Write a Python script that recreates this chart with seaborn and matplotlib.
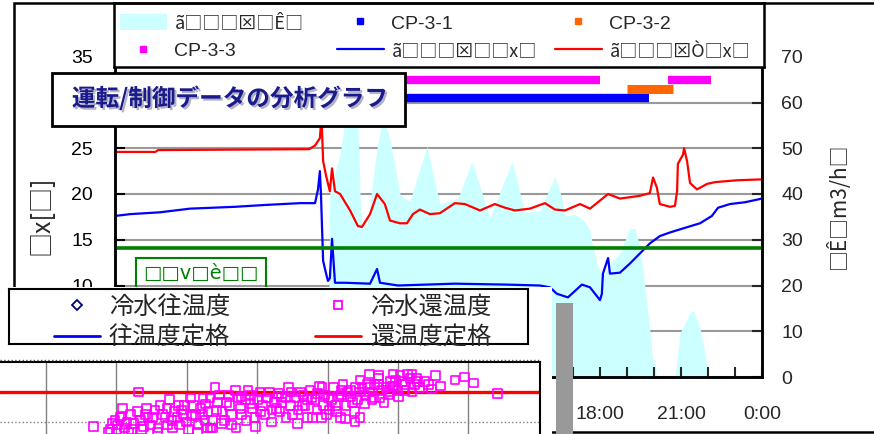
import matplotlib
matplotlib.use('Agg')
import matplotlib.pyplot as plt
import matplotlib.patheffects as pe
from matplotlib.patches import Rectangle, Patch
from matplotlib.lines import Line2D
from matplotlib.legend import Legend
import seaborn as sns

W, H = 874, 434

# ---- main chart data (hours of day, temperature degC / flow m3/h) ----
supply_t = [0, 0.56, 1.67, 2.78, 4.45, 5.56, 6.86, 7.42, 7.53, 7.60, 7.64, 7.68, 7.72, 7.83, 7.90,
            7.97, 8.05, 8.16, 8.53, 9.46, 9.72, 9.83, 10.5, 12.6, 14.5, 15.76, 16.13, 16.39, 16.80,
            17.32, 17.62, 17.99, 18.06, 18.10, 18.29, 18.36, 18.73, 19.10, 19.47, 19.84, 20.21,
            20.59, 21.14, 21.70, 22.14, 22.37, 22.81, 23.37, 24.0]
supply_v = [17.6, 17.8, 18.0, 18.4, 18.6, 18.8, 19.0, 19.0, 20.5, 22.5, 20.0, 16.3, 12.7, 11.3, 10.5,
            10.8, 15.1, 10.3, 10.3, 10.2, 11.8, 10.3, 10.0, 10.2, 10.1, 10.0, 9.8, 9.1, 8.7,
            10.1, 9.8, 8.4, 9.1, 11.3, 13.0, 11.3, 11.4, 12.4, 13.5, 14.6, 15.4,
            15.8, 16.3, 16.8, 17.6, 18.5, 18.9, 19.1, 19.5]

return_t = [0, 1.5, 1.6, 7.2, 7.42, 7.6, 7.66, 7.72, 7.83, 7.97, 8.05, 8.16, 8.35, 8.72, 9.01, 9.16,
            9.46, 9.72, 10.01, 10.2, 10.57, 10.83, 11.05, 11.31, 11.68, 12.05, 12.61, 12.98, 13.54,
            14.09, 14.47, 14.84, 15.39, 15.95, 16.32, 16.69, 17.25, 17.62, 18.29, 18.73, 19.47,
            19.84, 19.96, 20.10, 20.21, 20.59, 20.77, 20.85, 20.88, 21.07, 21.11, 21.22, 21.33,
            21.59, 21.96, 22.26, 23.07, 24.0]
return_v = [24.6, 24.6, 24.8, 24.9, 25.3, 26.1, 28.5, 23.6, 22.0, 20.3, 22.8, 20.3, 20.0, 18.2, 16.5, 16.4,
            17.8, 20.0, 18.9, 17.1, 16.8, 16.8, 17.8, 18.3, 17.8, 17.9, 19.0, 18.9, 18.2,
            18.9, 18.5, 18.2, 18.4, 19.0, 18.3, 18.2, 18.9, 18.4, 20.0, 19.5, 19.8,
            20.1, 21.8, 20.7, 18.9, 18.6, 18.7, 20.3, 23.3, 24.3, 25.0, 23.6, 21.2,
            20.5, 21.1, 21.3, 21.5, 21.6]

flow_t = [7.9, 7.97, 8.35, 8.53, 8.8, 9.01, 9.09, 9.16, 9.35, 9.72, 9.94, 10.2, 10.57, 10.76, 10.94,
          11.57, 12.05, 12.72, 13.24, 13.91, 14.73, 15.2, 15.76, 16.32, 16.58, 16.69, 17.06, 17.43,
          17.62, 17.73, 17.92, 18.10, 18.36, 18.73, 19.10, 19.29, 19.47, 19.66, 19.84, 19.96, 20.03,
          20.1, 20.77, 20.81, 20.96, 21.33, 21.44, 21.70, 21.88, 22.0]
flow_v = [0, 40.6, 48.7, 56, 58, 56, 40, 32.6, 33, 50, 57, 52, 40, 39, 38.5,
          50.4, 37.8, 39, 47.2, 34.8, 47.2, 36, 36.3, 43.9, 39, 35.2, 35.6, 34,
          32, 28.3, 23.9, 22, 24.8, 27, 32.6, 32.4, 28.3, 19.6, 10.2, 3, 3,
          0, 0, 2, 9.6, 14.1, 14.6, 10.9, 5.2, 0]

rated_temp = 14.1

# pump run periods (start, end) and the level they are drawn at (right axis)
cp31_on, cp31_off, cp31_lvl = [7.6], [19.8], 61
cp32_on, cp32_off, cp32_lvl = [19.0], [20.7], 63
cp33_on, cp33_off, cp33_lvl = [7.6, 20.5], [18.0, 22.1], 65

# ---- lower scatter data (load %, return temperature) ----
ret_load = [16.7, 18.8, 23.1, 20.9, 22.0, 20.5, 19.8, 20.2, 21.2, 22.4, 23.4, 24.1, 24.8, 25.5, 26.2,
            26.9, 27.6, 28.3, 29.0, 29.7, 30.5, 31.2, 31.9, 32.6, 32.9, 33.3, 33.7, 34.0, 34.4, 35.0,
            35.9, 36.4, 36.9, 37.6, 38.3, 39.0, 39.7, 40.4, 40.7, 41.5, 42.1, 43.0, 43.5, 44.4, 45.0,
            45.5, 46.1, 46.8, 47.5, 47.9, 48.2, 48.9, 49.1, 49.6, 50.3, 50.8, 51.5, 51.8, 52.2, 52.5,
            52.8, 53.5, 53.9, 54.0, 54.6, 54.6, 55.3, 55.7, 56.3, 57.2, 57.2, 57.7, 58.3, 58.9, 59.6,
            60.3, 61.0, 61.4, 61.7, 62.0, 62.6, 63.1, 63.8, 64.8, 65.3, 68.1, 69.5, 70.7, 74.1,
            19.1, 21.7, 23.6, 24.5, 25.9, 27.3, 27.9, 28.8, 29.5, 30.2, 30.9, 31.6, 32.3, 33.0, 33.6,
            34.7, 35.4, 36.1, 37.3, 37.8, 38.7, 39.3, 40.1, 41.1, 41.8, 42.5, 43.2, 44.0, 44.7, 45.8,
            46.5, 47.2, 48.6, 49.4, 50.1, 51.1, 52.0, 53.2, 54.3, 54.9, 56.0, 56.7, 57.4, 58.6, 59.2,
            60.0, 60.6, 62.4, 62.8, 64.3, 66.0,
            19.4, 20.1, 20.8, 21.5, 22.2, 23.0, 23.8, 24.3, 25.1, 25.8, 26.5, 27.2, 28.0, 28.6, 29.3,
            30.0, 30.7, 31.5, 32.2, 32.7, 33.4, 34.2, 34.9, 35.6, 36.3, 37.0, 37.7, 38.4, 39.1, 39.8,
            40.5, 41.3, 42.0, 42.7, 43.4, 44.1, 44.8, 45.7, 46.4, 47.1, 47.8, 48.5, 49.2, 49.9, 50.6,
            51.3, 51.9, 52.6, 53.3, 53.8, 54.5, 55.2, 55.9, 56.6, 57.3, 58.0, 58.7, 59.4, 60.1, 60.9,
            56.0, 59.3, 62.0]
ret_temp = [9.2, 8.3, 15.0, 12.3, 11.2, 10.7, 10.3, 9.5, 9.0, 9.8, 10.3, 11.3, 9.5, 12.0, 12.8,
            10.7, 13.7, 11.7, 9.5, 12.8, 14.0, 11.2, 12.3, 10.3, 9.0, 14.0, 9.0, 15.7, 13.3, 11.7,
            14.5, 9.5, 15.3, 12.3, 13.7, 14.5, 10.7, 15.0, 12.8, 14.0, 12.0, 14.7, 13.3, 15.7, 11.2,
            14.0, 15.0, 12.8, 15.3, 10.8, 13.7, 16.0, 10.8, 14.5, 12.0, 15.7, 14.2, 10.8, 16.3, 10.5,
            15.0, 13.3, 10.0, 15.8, 17.0, 10.7, 14.5, 16.3, 13.7, 17.3, 17.8, 15.3, 15.7, 16.8, 17.0,
            17.7, 16.2, 18.0, 17.2, 15.0, 17.3, 15.7, 16.8, 15.5, 17.7, 17.0, 17.5, 16.5, 14.7,
            8.7, 8.3, 8.7, 10.7, 9.0, 9.5, 10.3, 12.8, 11.2, 8.7, 12.8, 9.5, 14.0, 11.7, 10.3,
            14.5, 10.3, 12.8, 14.0, 11.2, 15.3, 12.3, 13.7, 11.2, 15.0, 13.3, 11.7, 14.0, 12.8, 12.0,
            14.5, 13.7, 14.8, 12.8, 14.0, 12.8, 14.5, 15.3, 13.7, 15.7, 15.0, 16.2, 14.0, 14.5, 16.0,
            15.3, 16.7, 16.2, 16.7, 16.3, 16.0,
            9.7, 8.7, 11.0, 10.0, 8.7, 11.7, 9.3, 12.3, 10.7, 8.3, 11.3, 12.3, 9.0, 10.7, 12.0,
            10.0, 11.0, 8.3, 11.3, 13.0, 9.0, 12.0, 9.7, 13.3, 11.3, 9.0, 14.3, 10.3, 13.0, 9.3,
            11.7, 14.0, 10.0, 12.3, 14.3, 10.7, 15.0, 9.7, 12.7, 10.7, 14.0, 12.0, 15.7, 11.3, 13.7,
            11.7, 15.3, 12.7, 14.3, 11.7, 15.0, 13.0, 15.7, 14.0, 16.3, 13.3, 15.0, 16.0, 14.3, 15.3,
            18.0, 18.0, 18.0]
ret_rated = 15.0

# ---- texts (as they appear, garbled) ----
title = '運転/制御データの分析グラフ'
flow_label = 'ã□□□⊠□Ê□'
supply_label = 'ã□□□⊠□□x□'
return_label = 'ã□□□⊠Ò□x□'
left_label = '□x[□]'
right_label = '□Ê□m3/h□'
green_label = '□□v□è□□'
hours = list(range(0, 25, 3))
hour_labels = [f'{h % 24}:00' for h in hours]
temp_ticks = list(range(0, 40, 5))
temp_labels = ['0', '5', '10', '15', '20', '25', '', '35']   # 30 sits under the title box

BLUE, RED, GREEN = '#0000FF', '#FF0000', '#008000'
MAG, ORANGE, CYAN = '#FF00FF', '#FF6600', '#CCFFFF'
LAT = ['Liberation Sans', 'DejaVu Sans']
CJK = ['Noto Sans CJK JP', 'DejaVu Sans']


def box(l, t, r, b):
    return [l / W, 1 - b / H, (r - l) / W, (b - t) / H]


sns.set_theme(style='white')
plt.rcParams['font.family'] = LAT

fig = plt.figure(figsize=(W / 100, H / 100), dpi=100)
fig.patch.set_facecolor('white')

# ---- main time-series chart ----
ax = fig.add_axes(box(115, 11, 762, 377))
ax2 = ax.twinx()
ax.set_zorder(2)
ax.patch.set_visible(False)
ax2.set_zorder(1)
ax2.patch.set_facecolor('white')

ax2.fill_between(flow_t, flow_v, color=CYAN, lw=0, zorder=1)
ax2.hlines([cp31_lvl] * len(cp31_on), cp31_on, cp31_off, colors=BLUE, lw=6, zorder=2)
ax2.hlines([cp32_lvl] * len(cp32_on), cp32_on, cp32_off, colors=ORANGE, lw=6.5, zorder=2)
ax2.hlines([cp33_lvl] * len(cp33_on), cp33_on, cp33_off, colors=MAG, lw=6, zorder=2)

sns.lineplot(x=return_t, y=return_v, ax=ax, color=RED, lw=1.6, estimator=None)
sns.lineplot(x=supply_t, y=supply_v, ax=ax, color=BLUE, lw=1.6, estimator=None)
ax.axhline(rated_temp, color=GREEN, lw=2.6)

ax.set_xlim(0, 24)
ax.set_ylim(0, 40)
ax2.set_ylim(0, 80)
ax.set_yticks(temp_ticks)
ax.set_yticklabels(temp_labels)
ax2.set_yticks(range(0, 80, 10))
ax.set_xticks(hours)
ax.set_xticklabels(hour_labels)
ax.set_xticks(range(25), minor=True)
ax2.yaxis.grid(True, color='#999999', lw=1.5)
ax2.set_axisbelow(True)
ax.grid(False)
ax.set_xlabel('')
ax.set_ylabel('')

ax.tick_params(axis='y', direction='in', length=7, width=1.5, pad=16, labelsize=14,
               left=True, colors='black')
ax.tick_params(axis='x', which='both', direction='in', length=7, width=1.5, pad=21,
               labelsize=14, bottom=True)
ax2.tick_params(axis='y', direction='in', length=7, width=1.5, pad=14, labelsize=14, right=True)
for a in (ax, ax2):
    for s in a.spines.values():
        s.set_color('black')
        s.set_linewidth(1.8)

fig.text(42 / W, 1 - 215 / H, left_label, rotation=90, ha='center', va='center',
         fontsize=18, family=CJK)
fig.text(838 / W, 1 - 206 / H, right_label, rotation=90, ha='center', va='center',
         fontsize=15, family=CJK)

# outer frame of the chart window
fig.add_artist(Rectangle((14 / W, 1 - 432 / H), (W + 10 - 14) / W, (432 - 3) / H,
                         transform=fig.transFigure, fill=False, ec='black', lw=1.8, zorder=4.8))

# ---- top legend ----
ax_top = fig.add_axes(box(114, 3, 764, 67))
ax_top.set_zorder(3)
ax_top.set_xticks([])
ax_top.set_yticks([])
for s in ax_top.spines.values():
    s.set_color('black')
    s.set_linewidth(1.8)

top_cols = [
    ([Patch(fc=CYAN, ec='none'),
      Line2D([], [], marker='s', ls='none', color=MAG, ms=5)], [flow_label, 'CP-3-3'], 120),
    ([Line2D([], [], marker='s', ls='none', color=BLUE, ms=5),
      Line2D([], [], color=BLUE, lw=1.6)], ['CP-3-1', supply_label], 337),
    ([Line2D([], [], marker='s', ls='none', color=ORANGE, ms=5),
      Line2D([], [], color=RED, lw=1.6)], ['CP-3-2', return_label], 555),
]
for handles, labels, xp in top_cols:
    leg = Legend(ax_top, handles, labels, loc='center left',
                 bbox_to_anchor=((xp - 114) / 650, 0.47), frameon=False, borderpad=0,
                 borderaxespad=0, handlelength=2.4, handleheight=0.88, handletextpad=0.4,
                 labelspacing=0.45, prop={'family': LAT, 'size': 14})
    for t in leg.get_texts():
        if not t.get_text().startswith('CP'):
            t.set_fontfamily(CJK)
            t.set_fontsize(13)
    ax_top.add_artist(leg)

# ---- title box ----
fig.add_artist(Rectangle((52 / W, 1 - 126 / H), (405 - 52) / W, (126 - 73) / H,
                         transform=fig.transFigure, fc='white', ec='black', lw=2, zorder=4))
fig.text(230 / W, 1 - 98 / H, title, ha='center', va='center', fontsize=17, fontweight='bold',
         color='#1A1A8C', family=CJK, zorder=4.5,
         path_effects=[pe.withSimplePatchShadow(offset=(1.5, -1.5), shadow_rgbFace='#8080A0',
                                                alpha=0.6)])

# ---- green note box ----
fig.add_artist(Rectangle((136 / W, 1 - 300 / H), 130 / W, 42 / H, transform=fig.transFigure,
                         fill=False, ec=GREEN, lw=1.5, zorder=4))
fig.text(201 / W, 1 - 273 / H, green_label, ha='center', va='center', color=GREEN,
         fontsize=14, family=['DejaVu Sans'], zorder=4)

# ---- overlapping window (white) with legend and scatter ----
fig.add_artist(Rectangle((0, 0), 552 / W, (434 - 287) / H, transform=fig.transFigure,
                         fc='white', ec='none', zorder=5))

ax_leg = fig.add_axes(box(9, 289, 528, 344))
ax_leg.set_zorder(6)
ax_leg.set_xticks([])
ax_leg.set_yticks([])
for s in ax_leg.spines.values():
    s.set_color('black')
    s.set_linewidth(1.5)

low_cols = [
    ([Line2D([], [], marker='D', ls='none', mfc='none', mec='#000080', ms=5, mew=1.3),
      Line2D([], [], color=BLUE, lw=2)], ['冷水往温度', '往温度定格'], 54),
    ([Line2D([], [], marker='s', ls='none', mfc='none', mec=MAG, ms=6, mew=1.3),
      Line2D([], [], color=RED, lw=2)], ['冷水還温度', '還温度定格'], 315),
]
for handles, labels, xp in low_cols:
    leg = Legend(ax_leg, handles, labels, loc='center left',
                 bbox_to_anchor=((xp - 9) / 519, 0.40), frameon=False, borderpad=0,
                 borderaxespad=0, handlelength=1.9, handletextpad=0.35, labelspacing=0.2,
                 prop={'family': CJK, 'size': 17.5})
    ax_leg.add_artist(leg)

axs = fig.add_axes(box(0, 362, 540, 445))
axs.set_zorder(6)
axs.set_xlim(3.47, 80.17)
axs.set_ylim(6.17, 20)
axs.set_xticks(range(10, 80, 10))
axs.set_yticks([10])
axs.xaxis.grid(True, color='#808080', lw=1)
axs.yaxis.grid(True, color='#808080', lw=1, ls=':')
axs.tick_params(length=0, labelbottom=False, labelleft=False)
axs.axhline(ret_rated, color=RED, lw=2.4, zorder=2)
sns.scatterplot(x=ret_load, y=ret_temp, ax=axs, marker='s', s=40, facecolors='none',
                edgecolor=MAG, linewidth=1.2, zorder=3)
axs.set_xlabel('')
axs.set_ylabel('')
for side, s in axs.spines.items():
    s.set_visible(side in ('top', 'right'))
    s.set_color('black')
    s.set_linewidth(1.5)
fig.add_artist(Line2D([0, 540 / W], [1 - 359.5 / H] * 2, transform=fig.transFigure,
                      ls=':', color='#555555', lw=1, zorder=6.5))

# grey bar of a window behind
fig.add_artist(Rectangle((556 / W, 0), 17 / W, (434 - 303) / H, transform=fig.transFigure,
                         fc='#999999', ec='none', zorder=7))

fig.savefig('out.png', dpi=100)
